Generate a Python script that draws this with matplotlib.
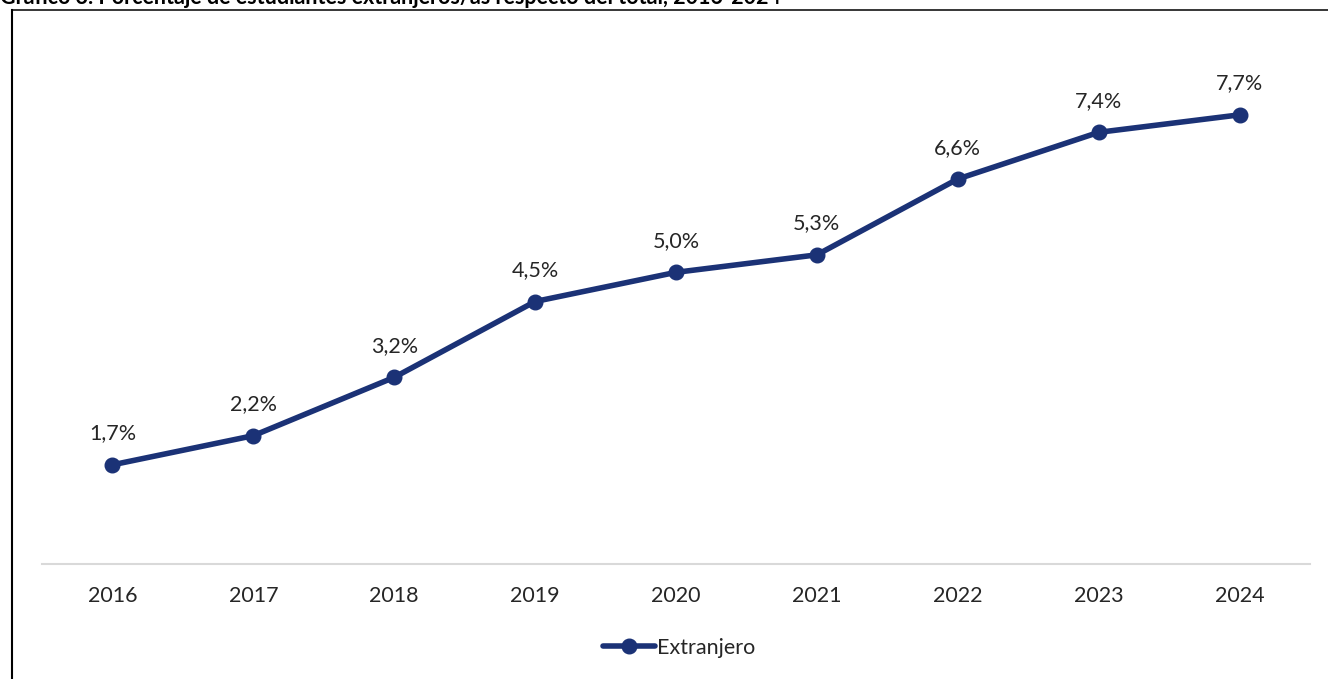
import matplotlib
matplotlib.use("Agg")
import matplotlib.pyplot as plt
from matplotlib.lines import Line2D

years = ["2016", "2017", "2018", "2019", "2020", "2021", "2022", "2023", "2024"]
values = [1.7, 2.2, 3.2, 4.5, 5.0, 5.3, 6.6, 7.4, 7.7]
labels = ["1,7%", "2,2%", "3,2%", "4,5%", "5,0%", "5,3%", "6,6%", "7,4%", "7,7%"]
series_name = "Extranjero"
title = "Gráfico 3. Porcentaje de estudiantes extranjeros/as respecto del total, 2016-2024"

W, H = 1328, 679
plt.rcParams['font.family'] = ['Lato', 'DejaVu Sans']
fig = plt.figure(figsize=(W / 100, H / 100), dpi=100)

color = "#1B3276"
ax = fig.add_axes([42 / W, 1 - 564 / H, (1310 - 42) / W, (564 - 39) / H])
x = list(range(len(years)))
ax.plot(x, values, color=color, lw=4, marker='o', markersize=10.5,
        solid_capstyle='round', label=series_name, zorder=3)
for xi, v, lab in zip(x, values, labels):
    ax.annotate(lab, (xi, v), xytext=(0, 22.5), textcoords='offset points',
                ha='center', va='center', fontsize=15.5, color='#262626')

ax.set_xlim(-0.5, len(years) - 0.5)
ax.set_ylim(0, 9)
ax.set_xticks(x)
ax.set_xticklabels(years, fontsize=15.5, color='#262626')
ax.tick_params(axis='x', length=0, pad=16)
ax.set_yticks([])
for s in ['top', 'right', 'left']:
    ax.spines[s].set_visible(False)
ax.spines['bottom'].set_color('#D9D9D9')
ax.spines['bottom'].set_linewidth(1.5)

leg = fig.legend(loc='center', bbox_to_anchor=(679 / W, 1 - 648 / H), frameon=False,
                 fontsize=15.5, handlelength=2.4, handletextpad=0.1, labelcolor='#262626')

# frame lines
fig.add_artist(Line2D([12 / W, 12 / W], [0, 1 - 9.5 / H], color='black', lw=1.5,
                      transform=fig.transFigure))
fig.add_artist(Line2D([12 / W, 1], [1 - 9.5 / H, 1 - 9.5 / H], color='black', lw=1.1,
                      transform=fig.transFigure))
fig.text(0.0, 1 - 4 / H, title, ha='left', va='baseline', fontsize=15.5,
         fontweight='bold', color='black')

fig.savefig("out.png", dpi=100)
